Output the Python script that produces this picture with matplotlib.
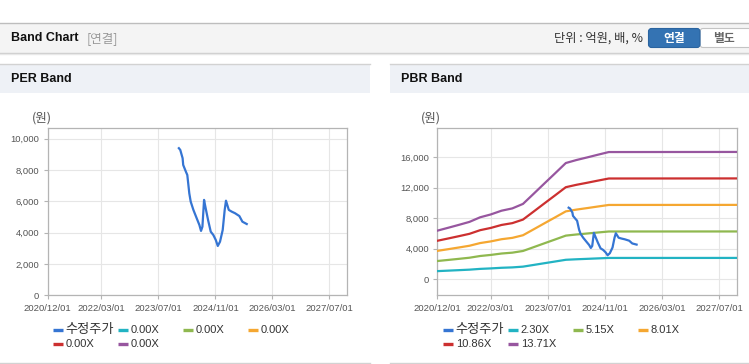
import pandas as pd
import matplotlib
matplotlib.use('Agg')
import matplotlib.pyplot as plt
import matplotlib.dates as mdates
from matplotlib.patches import Rectangle, FancyBboxPatch

plt.rcParams['font.family'] = ['Liberation Sans', 'Noto Sans CJK KR', 'DejaVu Sans']

# adjusted close price (수정주가)
price_dates = ['2023-12-25', '2024-01-06', '2024-01-26', '2024-01-31', '2024-02-23',
               '2024-03-06', '2024-03-23', '2024-04-04', '2024-04-27', '2024-05-25',
               '2024-06-17', '2024-07-01', '2024-07-13', '2024-07-27', '2024-08-07',
               '2024-08-30', '2024-09-22', '2024-10-14', '2024-11-04', '2024-11-21',
               '2024-12-10', '2025-01-02', '2025-01-19', '2025-01-30', '2025-02-23',
               '2025-03-20', '2025-04-17', '2025-05-24', '2025-06-19', '2025-07-26']
price = [9390, 9280, 8750, 8320, 7890, 7680, 6510, 5980, 5450, 4920,
         4490, 4110, 4380, 6090, 5660, 4810, 4060, 3850, 3530, 3150,
         3420, 4170, 5450, 6040, 5450, 5340, 5240, 5060, 4700, 4550]

# book value per share behind the PBR band lines
bps_dates = ['2020-12-01', '2021-03-01', '2021-06-01', '2021-09-01', '2021-12-01',
             '2022-03-01', '2022-06-01', '2022-09-01', '2022-12-01', '2023-03-01',
             '2023-06-01', '2023-09-01', '2023-12-01', '2024-03-01', '2024-06-01',
             '2024-09-01', '2024-12-01', '2027-12-01']
bps = [465, 492, 520, 549, 593, 620, 656, 678, 721, 817,
       916, 1014, 1112, 1141, 1166, 1192, 1217, 1218]

per_multiples = [0.00, 0.00, 0.00, 0.00, 0.00]
pbr_multiples = [2.30, 5.15, 8.01, 10.86, 13.71]

price_label = '수정주가'
band_colors = ['#22b3c3', '#8fb84f', '#f5a731', '#cc3030', '#97569f']
price_color = '#3575d3'

x_ticks = ['2020/12/01', '2022/03/01', '2023/07/01', '2024/11/01', '2026/03/01', '2027/07/01']
x_range = ['2020-12-01', '2027-12-01']
per_yticks = [0, 2000, 4000, 6000, 8000, 10000]
pbr_yticks = [0, 4000, 8000, 12000, 16000]

W, H = 749, 364
fig = plt.figure(figsize=(W / 100, H / 100), dpi=100)
fig.patch.set_facecolor('white')

# page decoration in pixel coordinates
bg = fig.add_axes([0, 0, 1, 1], zorder=0)
bg.set_xlim(0, W)
bg.set_ylim(H, 0)
bg.axis('off')

bg.add_patch(Rectangle((0, 23), W, 29.5, facecolor='#f4f4f4', edgecolor='none'))
bg.plot([0, W], [22.5, 22.5], color='#bdbdbd', lw=1.0)
bg.plot([0, W], [53, 53], color='#cccccc', lw=1.0)
bg.plot([0, W], [54.2, 54.2], color='#e8e8e8', lw=1.0)
bg.text(11, 38, 'Band Chart', fontsize=9, fontweight='bold', color='#111111', va='center')
bg.text(87, 38.5, '[연결]', fontsize=9, color='#999999', va='center',
        family=['Noto Sans CJK KR'])
bg.text(643, 38.5, '단위 : 억원, 배, %', fontsize=8.8, color='#333333', va='center', ha='right',
        family=['Noto Sans CJK KR', 'DejaVu Sans'])
bg.add_patch(FancyBboxPatch((700, 28.5), 52, 19, boxstyle='round,pad=0,rounding_size=3',
                            facecolor='white', edgecolor='#c4c4c4', lw=0.8))
bg.add_patch(FancyBboxPatch((648.5, 28.5), 51.5, 19, boxstyle='round,pad=0,rounding_size=3',
                            facecolor='#3473b3', edgecolor='#2b64a0', lw=0.8))
bg.text(674, 38.5, '연결', fontsize=8.5, color='white', fontweight='bold', ha='center', va='center',
        family=['Noto Sans CJK KR'])
bg.text(724, 38.5, '별도', fontsize=8.5, color='#666666', fontweight='bold', ha='center', va='center',
        family=['Noto Sans CJK KR'])

panels = [(0, 370, 'PER Band'), (390, W, 'PBR Band')]
for x0, x1, title in panels:
    bg.add_patch(Rectangle((x0, 64.5), x1 - x0, 28, facecolor='#eef1f6', edgecolor='none'))
    bg.plot([x0, x1], [64.2, 64.2], color='#d2d2d2', lw=1.0)
    bg.plot([x0, x1], [363, 363], color='#d2d2d2', lw=1.0)
    bg.text(x0 + 11, 79.5, title, fontsize=9, fontweight='bold', color='#111111', va='center')


def draw_chart(rect, yticks, ylim, multiples, legend_x, unit_x):
    ax = fig.add_axes(rect, zorder=2)
    ax.set_facecolor('white')
    pdates = pd.to_datetime(price_dates)
    bdates = pd.to_datetime(bps_dates)
    handles = []
    labels = []
    for m, c in zip(multiples, band_colors):
        labels.append(f'{m:.2f}X')
        handles.append(c)
        if m > 0:
            ax.plot(bdates, [b * m for b in bps], color=c, lw=1.6, zorder=3)
    ax.plot(pdates, price, color=price_color, lw=1.6, zorder=4)

    ax.set_xlim(pd.to_datetime(x_range[0]), pd.to_datetime(x_range[1]))
    ax.set_xticks(pd.to_datetime(x_ticks, format='%Y/%m/%d'))
    ax.xaxis.set_major_formatter(mdates.DateFormatter('%Y/%m/%d'))
    ax.set_ylim(*ylim)
    ax.set_yticks(yticks)
    ax.set_yticklabels([f'{v:,}' for v in yticks])
    ax.grid(True, color='#e6e6e6', lw=0.8, zorder=0)
    ax.set_axisbelow(True)
    for s in ax.spines.values():
        s.set_color('#b4b4b4')
        s.set_linewidth(0.9)
    ax.tick_params(length=3, width=0.8, color='#b4b4b4', labelsize=6.8,
                   labelcolor='#555555', pad=3)

    bg.text(unit_x, 118, '(원)', fontsize=9, color='#555555', va='center',
            family=['Noto Sans CJK KR', 'DejaVu Sans'])

    # legend: row-major, fixed item width
    items = [(price_color, price_label)] + list(zip(handles, labels))
    for i, (c, lab) in enumerate(items):
        row, col = divmod(i, 4)
        lx = legend_x + col * 65
        ly = 330 + row * 14
        bg.plot([lx, lx + 10], [ly, ly], color=c, lw=2.4, solid_capstyle='butt')
        size = 9.5 if i == 0 else 8
        bg.text(lx + 12.5, ly, lab, fontsize=size, color='#333333', va='center',
                family=['Liberation Sans', 'Noto Sans CJK KR'])
    return ax


draw_chart([47.7 / W, (H - 295.3) / H, 299.6 / W, 167 / H], per_yticks, (0, 10660),
           per_multiples, 52.7, 32)
draw_chart([437.3 / W, (H - 295.3) / H, 300 / W, 167 / H], pbr_yticks, (-2100, 19800),
           pbr_multiples, 443.3, 421)

fig.savefig('out.png', dpi=100)
